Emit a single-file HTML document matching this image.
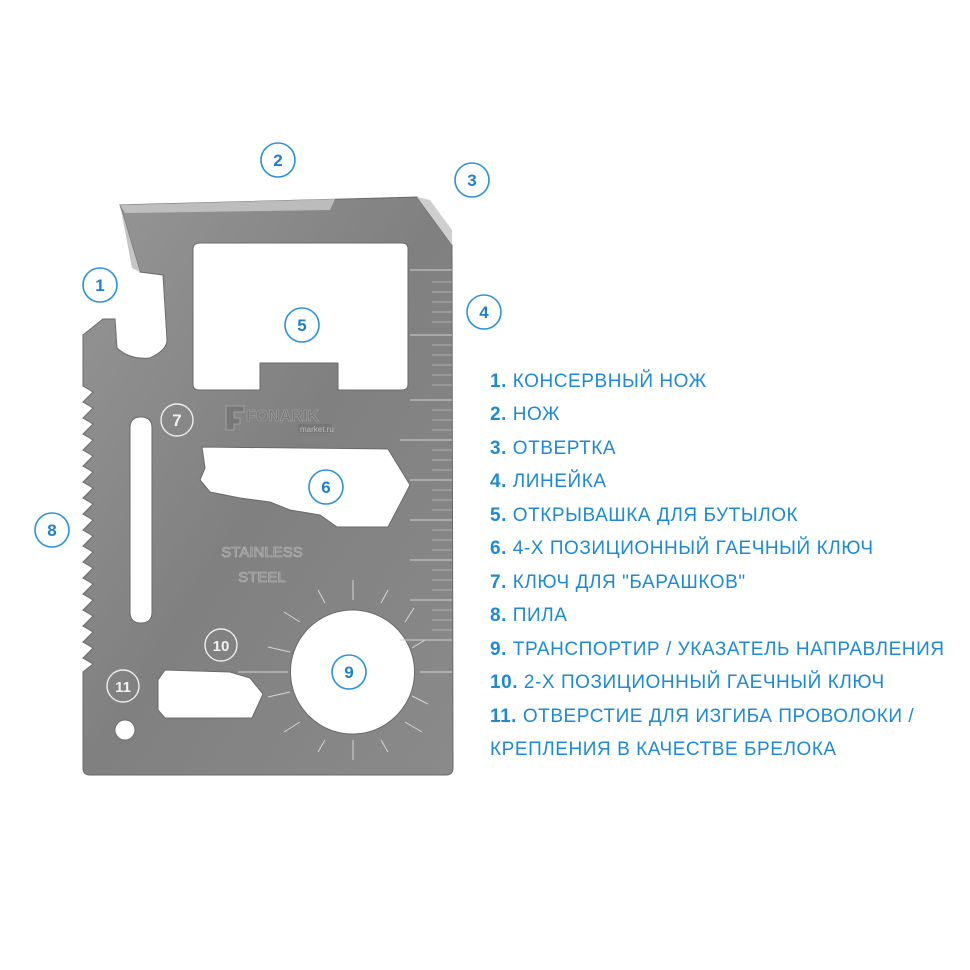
<!DOCTYPE html>
<html><head><meta charset="utf-8"><style>
html,body{margin:0;padding:0;background:#fff;}
svg{display:block}
.t{font-family:"Liberation Sans",sans-serif;font-size:19px;fill:#1e8ad6;letter-spacing:0.55px;}
.b{font-weight:bold}
</style></head><body>
<svg width="970" height="970" viewBox="0 0 970 970">
<defs>
<linearGradient id="g" x1="0" y1="0" x2="1" y2="1">
<stop offset="0" stop-color="#969696"/><stop offset="0.5" stop-color="#808080"/><stop offset="1" stop-color="#8a8a8a"/>
</linearGradient>
</defs>
<path fill-rule="evenodd" fill="url(#g)" stroke="#6a6a6a" stroke-width="1" d="
M120,205 L417,197 L452,245 L453,768 Q453,775 446,775 L90,775 Q83,775 83,768 L83,672
L93,664 L83,658 L93,648 L83,642 L93,632 L83,626 L93,616 L83,610 L93,600 L83,594 L93,584 L83,578 L93,568 L83,562 L93,552 L83,546 L93,536 L83,530 L93,520 L83,514 L93,504 L83,498 L93,488 L83,482 L93,472 L83,466 L93,456 L83,450 L93,440 L83,434 L93,424 L83,418 L93,408 L83,402 L93,392 L83,386
L83,335 L103,319 L115,319 L117,348 Q130,360 150,358 Q167,350 167,340 L163,275 L140,272 Z
M200,243 L402,243 Q408,243 408,249 L408,384 Q408,390 402,390 L338,390 L338,363 L260,363 L260,390 L199,390 Q193,390 193,384 L193,249 Q193,243 200,243 Z
M141,417 Q152,417 152,428 L152,612 Q152,623 141,623 Q130,623 130,612 L130,428 Q130,417 141,417 Z
M202,447 L388,449 L410,485 L388,527 L337,527 L320,515 L290,510 L270,502 L240,498 L210,492 L200,480 L205,468 Z
M353,610 A62,62 0 1,1 352,610 Z
M165,670 L230,672 L250,678 L263,694 L252,718 L165,718 L158,710 L158,680 Z
M125,720 A10,10 0 1,1 124.9,720 Z"/>
<path d="M120,205 L335,199 L330,210 L125,213 Z" fill="#c9c9c9" opacity="0.8"/>
<path d="M417,197 L452,245 L452,230 L430,200 Z" fill="#cfcfcf"/>
<path d="M120,205 L140,272 L132,268 L122,215 Z" fill="#c5c5c5"/>
<g stroke="#d0d0d0" stroke-width="1">
<line x1="410" y1="270" x2="452" y2="270"/><line x1="410" y1="335" x2="452" y2="335"/><line x1="410" y1="400" x2="452" y2="400"/><line x1="400" y1="440" x2="452" y2="440"/><line x1="410" y1="480" x2="452" y2="480"/><line x1="410" y1="520" x2="452" y2="520"/><line x1="410" y1="560" x2="452" y2="560"/><line x1="410" y1="600" x2="452" y2="600"/><line x1="400" y1="640" x2="452" y2="640"/>
</g>
<g stroke="#bdbdbd" stroke-width="0.8">
<path d="M432,282h20M432,292h20M432,302h20M432,312h20M432,322h20M432,345h20M432,355h20M432,365h20M432,375h20M432,385h20M432,410h20M432,420h20M432,430h20M432,450h20M432,460h20M432,470h20M432,490h20M432,500h20M432,510h20M432,530h20M432,540h20M432,550h20M432,570h20M432,580h20M432,590h20M432,610h20M432,620h20M432,630h20"/>
</g>
<g stroke="#d5d5d5" stroke-width="1">
<line x1="353" y1="580" x2="353" y2="600"/><line x1="318" y1="590" x2="325" y2="603"/><line x1="388" y1="590" x2="381" y2="603"/>
<line x1="284" y1="612" x2="300" y2="622"/><line x1="414" y1="608" x2="405" y2="622"/>
<line x1="268" y1="647" x2="290" y2="652"/><line x1="425" y1="640" x2="412" y2="648"/>
<line x1="238" y1="672" x2="288" y2="672"/><line x1="420" y1="672" x2="452" y2="672"/>
<line x1="268" y1="697" x2="290" y2="692"/><line x1="428" y1="704" x2="412" y2="696"/>
<line x1="284" y1="732" x2="300" y2="722"/><line x1="422" y1="732" x2="405" y2="722"/>
<line x1="318" y1="752" x2="325" y2="740"/><line x1="388" y1="752" x2="381" y2="740"/><line x1="353" y1="760" x2="353" y2="740"/>
</g>
<path d="M226,406 h18 v6 h-10 v6 h6 v6 h-6 v6 h-8 Z" fill="#777" stroke="#aaa" stroke-width="0.8"/>
<text x="246" y="421" font-family="Liberation Sans,sans-serif" font-weight="bold" font-size="16" fill="#777" stroke="#aaa" stroke-width="0.5">FONARIK</text>
<rect x="298" y="424" width="34" height="9" fill="#777"/>
<text x="300" y="432" font-family="Liberation Sans,sans-serif" font-size="8" fill="#bbb">market.ru</text>
<text x="262" y="557" text-anchor="middle" font-family="Liberation Sans,sans-serif" font-size="15" fill="#888" stroke="#bbb" stroke-width="0.6">STAINLESS</text>
<text x="262" y="582" text-anchor="middle" font-family="Liberation Sans,sans-serif" font-size="15" fill="#888" stroke="#bbb" stroke-width="0.6">STEEL</text>
<g font-family="Liberation Sans,sans-serif" font-weight="bold" font-size="17" text-anchor="middle">
<g fill="#fff" stroke="#2a92dc" stroke-width="1.6">
<circle cx="278" cy="160" r="17"/><circle cx="472" cy="180" r="17"/><circle cx="100" cy="285" r="17"/><circle cx="484" cy="312" r="17"/><circle cx="302" cy="325" r="17"/><circle cx="52" cy="530" r="17"/><circle cx="326" cy="487" r="17"/><circle cx="349" cy="672" r="17"/>
</g>
<g fill="#1e7fd0">
<text x="278" y="166">2</text><text x="472" y="186">3</text><text x="100" y="291">1</text><text x="484" y="318">4</text><text x="302" y="331">5</text><text x="52" y="536">8</text><text x="326" y="493">6</text><text x="349" y="678">9</text>
</g>
<g fill="none" stroke="#eee" stroke-width="1.4">
<circle cx="177" cy="420" r="16"/><circle cx="221" cy="645" r="16"/><circle cx="123" cy="686" r="16"/>
</g>
<g fill="#f2f2f2">
<text x="177" y="426">7</text><text x="221" y="651" font-size="15">10</text><text x="123" y="692" font-size="15">11</text>
</g>
</g>
<text class="t" x="490" y="387"><tspan class="b">1.</tspan> КОНСЕРВНЫЙ НОЖ</text>
<text class="t" x="490" y="420"><tspan class="b">2.</tspan> НОЖ</text>
<text class="t" x="490" y="454"><tspan class="b">3.</tspan> ОТВЕРТКА</text>
<text class="t" x="490" y="487"><tspan class="b">4.</tspan> ЛИНЕЙКА</text>
<text class="t" x="490" y="521"><tspan class="b">5.</tspan> ОТКРЫВАШКА ДЛЯ БУТЫЛОК</text>
<text class="t" x="490" y="554"><tspan class="b">6.</tspan> 4-Х ПОЗИЦИОННЫЙ ГАЕЧНЫЙ КЛЮЧ</text>
<text class="t" x="490" y="588"><tspan class="b">7.</tspan> КЛЮЧ ДЛЯ "БАРАШКОВ"</text>
<text class="t" x="490" y="621"><tspan class="b">8.</tspan> ПИЛА</text>
<text class="t" x="490" y="655"><tspan class="b">9.</tspan> ТРАНСПОРТИР / УКАЗАТЕЛЬ НАПРАВЛЕНИЯ</text>
<text class="t" x="490" y="688"><tspan class="b">10.</tspan> 2-Х ПОЗИЦИОННЫЙ ГАЕЧНЫЙ КЛЮЧ</text>
<text class="t" x="490" y="722"><tspan class="b">11.</tspan> ОТВЕРСТИЕ ДЛЯ ИЗГИБА ПРОВОЛОКИ /</text>
<text class="t" x="490" y="755">КРЕПЛЕНИЯ В КАЧЕСТВЕ БРЕЛОКА</text>
</svg>
</body></html>
